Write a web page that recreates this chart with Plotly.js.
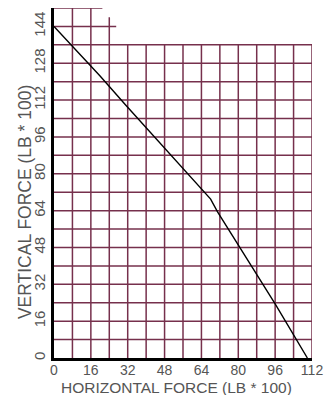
<!DOCTYPE html>
<html>
<head>
<meta charset="utf-8">
<script src="https://cdn.plot.ly/plotly-3.0.1.min.js"></script>
<style>html,body{margin:0;padding:0;background:#fff;}#chart{width:325px;height:395px;}</style>
</head>
<body>
<div id="chart"></div>
<script>
// Curve data (horizontal force vs vertical force, LB*100)
var curveX = [0, 20, 31, 56, 59, 68, 71, 84, 96, 110];
var curveY = [144, 122.5, 110, 82.5, 79, 69, 63.5, 43, 23.5, 0];

// Tick labels
var xTicks = [0, 16, 32, 48, 64, 80, 96, 112];
var yTicks = [0, 16, 32, 48, 64, 80, 96, 112, 128, 144];

// Grid: vertical lines (x) with their top ends (y)
var gridVX = [8, 16, 24, 32, 40, 48, 56, 64, 72, 80, 88, 96, 104, 112];
var gridVTop = [152, 152, 148, 136, 136, 136, 136, 136, 136, 136, 136, 136, 136, 136];
// Grid: horizontal lines (y) with their right ends (x)
var gridHY = [8, 16, 24, 32, 40, 48, 56, 64, 72, 80, 88, 96, 104, 112, 120, 128, 136, 144, 152];
var gridHRight = [112, 112, 112, 112, 112, 112, 112, 112, 112, 112, 112, 112, 112, 112, 112, 112, 112, 27, 21];

var gridColor = '#76304c';
var shapes = [];
for (var i = 0; i < gridVX.length; i++) {
  shapes.push({type: 'line', xref: 'x', yref: 'y', x0: gridVX[i], x1: gridVX[i], y0: 0, y1: gridVTop[i],
    line: {color: gridColor, width: 1.5}, layer: 'below'});
}
for (var j = 0; j < gridHY.length; j++) {
  shapes.push({type: 'line', xref: 'x', yref: 'y', x0: 0, x1: gridHRight[j], y0: gridHY[j], y1: gridHY[j],
    line: {color: gridColor, width: 1.5}, layer: 'below'});
}

var trace = {
  x: curveX, y: curveY, type: 'scatter', mode: 'lines',
  line: {color: '#000', width: 1.4}, hoverinfo: 'skip'
};

var fontFam = 'Arial, "Liberation Sans", sans-serif';
var layout = {
  width: 325, height: 395,
  margin: {l: 54, r: 13, t: 8, b: 37, pad: 0},
  paper_bgcolor: '#fff', plot_bgcolor: '#fff',
  showlegend: false,
  font: {family: fontFam, color: '#555', size: 14},
  xaxis: {
    range: [0, 112], tickvals: xTicks, ticktext: xTicks.map(String),
    showgrid: false, zeroline: false, showline: true, linecolor: '#000', linewidth: 3,
    ticks: '', ticklabelstandoff: -3, tickfont: {size: 14, color: '#555'}, fixedrange: true
  },
  yaxis: {
    range: [0, 152], tickvals: yTicks, ticktext: yTicks.map(String), tickangle: -90,
    showgrid: false, zeroline: false, showline: true, linecolor: '#000', linewidth: 3,
    ticks: '', tickfont: {size: 15, color: '#555'}, fixedrange: true
  },
  shapes: shapes,
  annotations: [
    {text: 'HORIZONTAL FORCE (LB * 100)', xref: 'paper', yref: 'paper', x: 0.475, y: -0.083,
     xanchor: 'center', yanchor: 'middle', showarrow: false, font: {size: 15.5, color: '#555'}},
    {text: 'VERTICAL FORCE (LB * 100)', xref: 'paper', yref: 'paper', x: -0.113, y: 0.445,
     textangle: -90, xanchor: 'center', yanchor: 'middle', showarrow: false, font: {size: 17.5, color: '#555'}}
  ]
};

Plotly.newPlot('chart', [trace], layout, {displayModeBar: false, staticPlot: true});
</script>
</body>
</html>
